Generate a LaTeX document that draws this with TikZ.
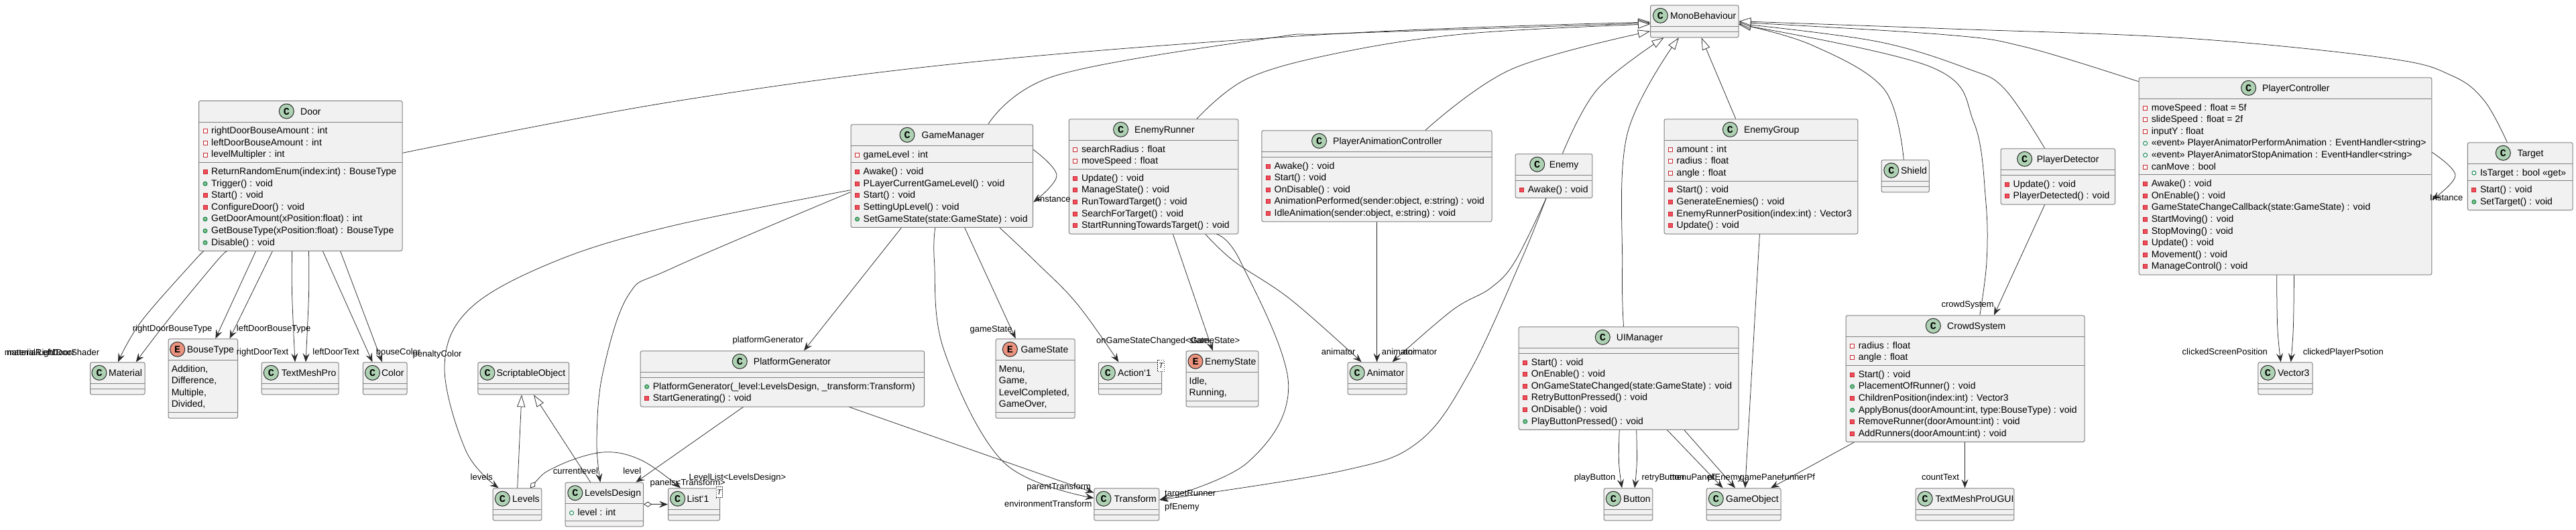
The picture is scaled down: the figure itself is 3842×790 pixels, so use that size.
\documentclass[tikz,border=0pt]{standalone}
\usepackage{fontspec}
\setmainfont{Liberation Sans}
\newfontfamily\spotfont{Liberation Mono}
\usetikzlibrary{arrows.meta}
\definecolor{boxfill}{HTML}{F1F1F1}
\definecolor{boxline}{HTML}{808080}
\definecolor{ink}{HTML}{2A2A2A}
\definecolor{spotc}{HTML}{ADD1B2}
\definecolor{spote}{HTML}{EB937F}
\definecolor{privline}{HTML}{C82930}
\definecolor{privfill}{HTML}{F24D5C}
\definecolor{publine}{HTML}{038048}
\definecolor{pubfill}{HTML}{84BE84}
\newcounter{autoid}
\tikzset{
  classbox/.style={draw=boxline,fill=boxfill,line width=1pt,rounded corners=2.5pt,inner sep=0pt,anchor=north west},
  sepline/.style={draw=boxline,line width=1pt},
  rowtxt/.style={anchor=base west,inner sep=0pt,text=black,font=\fontsize{14}{16}\selectfont},
  lbltxt/.style={anchor=base west,inner sep=0pt,text=black,font=\fontsize{13}{15}\selectfont},
  spotglyph/.style={inner sep=0pt,text=black,font=\fontsize{15}{15}\selectfont\spotfont\bfseries},
  spotdisc/.style={draw=ink,line width=1pt},
  assoc/.style={draw=ink,line width=.75pt,-{Stealth[length=13pt,width=10pt,inset=5pt]}},
  inherit/.style={draw=ink,line width=.75pt,-{Triangle[open,fill=white,length=18pt,width=12pt]}},
  aggreg/.style={draw=ink,line width=.75pt,{Diamond[open,fill=white,length=12pt,width=8pt]}-{Stealth[length=13pt,width=10pt,inset=5pt]}},
  privf/.style={draw=privline,fill=white,line width=.9pt},
  privm/.style={draw=privline,fill=privfill,line width=.9pt},
  pubf/.style={draw=publine,fill=white,line width=.9pt},
  pubm/.style={draw=publine,fill=pubfill,line width=.9pt},
  tmplbox/.style={draw=ink,fill=white,dashed,dash pattern=on 1.5pt off 1.5pt,line width=.8pt,inner sep=0pt,anchor=north west,text=black,font=\fontsize{11}{11}\selectfont\itshape},
  smoothline/.style={smooth,tension=.6}
}
% #1 spot letter, #2 id, #3 left, #4 top, #5 right, #6 rows in fields, #7 rows in methods, #8 spot x, #9 name x, then title via \umltitle
\newcommand\umlclass[9][C]{%
  \pgfmathsetmacro\rl{#3}%
  \pgfmathsetmacro\yA{#4+32}%
  \pgfmathsetmacro\yB{\yA+8+17.6*#6}%
  \pgfmathsetmacro\yC{\yB+8+17.6*#7}%
  \pgfmathsetmacro\boxw{#5-#3}%
  \pgfmathsetmacro\boxh{\yC-#4}%
  \node[classbox,minimum width=\boxw pt,minimum height=\boxh pt] (#2) at (#3,#4) {};
  \draw[sepline] (#3,\yA) -- (#5,\yA);
  \draw[sepline] (#3,\yB) -- (#5,\yB);
  \def\tempspot{#1}\def\tempC{C}%
  \ifx\tempspot\tempC\def\tempcol{spotc}\else\def\tempcol{spote}\fi
  \draw[spotdisc,fill=\tempcol] (#8,#4+16) circle[radius=11];
  \node[spotglyph] (#2-spot) at (#8,#4+16.3) {#1};
  \def\titlex{#9}\def\titley{#4}%
  \pgfmathsetmacro\cury{\yA+13.8}%
  \umltitle{#2}%
}
\newcommand\umltitle[2]{\node[rowtxt] (#1-name) at (\titlex,\titley+21) {#2};}
\newcommand\methods{\pgfmathsetmacro\cury{\yB+13.8}}
\newcommand\rowtext[2]{\stepcounter{autoid}\node[rowtxt] (r\arabic{autoid}) at (\rl+#1,\cury+3.9) {#2};\pgfmathsetmacro\cury{\cury+17.6}}
\newcommand\fpriv[1]{\draw[privf] (\rl+7,\cury-3) rectangle (\rl+13,\cury+3);\rowtext{19}{#1}}
\newcommand\mpriv[1]{\draw[privm] (\rl+7,\cury-3) rectangle (\rl+13,\cury+3);\rowtext{19}{#1}}
\newcommand\fpub[1]{\draw[pubf] (\rl+10,\cury) circle[radius=3];\rowtext{19}{#1}}
\newcommand\mpub[1]{\draw[pubm] (\rl+10,\cury) circle[radius=3];\rowtext{19}{#1}}
\newcommand\eitem[1]{\rowtext{5}{#1}}
\newcommand\lbl[3]{\stepcounter{autoid}\node[lbltxt] (l\arabic{autoid}) at (#1,#2+4) {#3};}
\begin{document}
\begin{tikzpicture}[x=1pt,y=-1pt]
\useasboundingbox (0,0) rectangle (3842,790);
\fill[white] (0,0) rectangle (3842,790);

\umlclass{door}{296}{150}{599.5}{3}{7}{427.3}{448}{Door}
\fpriv{rightDoorBouseAmount : int}\fpriv{leftDoorBouseAmount : int}\fpriv{levelMultipler : int}
\methods
\mpriv{ReturnRandomEnum(index:int) : BouseType}\mpub{Trigger() : void}\mpriv{Start() : void}\mpriv{ConfigureDoor() : void}\mpub{GetDoorAmount(xPosition:float) : int}\mpub{GetBouseType(xPosition:float) : BouseType}\mpub{Disable() : void}

\umlclass{material}{134}{540.3}{215.5}{0}{0}{148}{162}{Material}
\umlclass[E]{bousetype}{250.6}{505.3}{354}{4}{0}{264.7}{278.7}{BouseType}
\eitem{Addition,}\eitem{Difference,}\eitem{Multiple,}\eitem{Divided,}
\umlclass{textmeshpro}{389.7}{540.3}{504.5}{0}{0}{404.3}{419.6}{TextMeshPro}
\umlclass{color}{540.8}{540.3}{606.5}{0}{0}{555.5}{568.9}{Color}
\umlclass{scriptable}{712.4}{540.3}{848.2}{0}{0}{727}{740.4}{ScriptableObject}
\umlclass{levels}{734.7}{728.3}{807.4}{0}{0}{749.4}{764}{Levels}
\umlclass{levelsdesign}{842.5}{719.7}{959.2}{1}{0}{857.8}{871.8}{LevelsDesign}
\fpub{level : int}
\umlclass{listone}{996}{728.3}{1073}{0}{0}{1010.7}{1024.5}{List`1}
\node[tmplbox,minimum width=9pt,minimum height=16.6pt] (listT) at (1067.7,725.7) {T};
\umlclass{platform}{954.7}{523.3}{1378}{0}{2}{1103.3}{1123.7}{PlatformGenerator}
\methods
\mpub{PlatformGenerator(\_level:LevelsDesign, \_transform:Transform)}\mpriv{StartGenerating() : void}

\umlclass{gamemanager}{1268.5}{185.3}{1540.2}{1}{5}{1353}{1374.4}{GameManager}
\fpriv{gameLevel : int}
\methods
\mpriv{Awake() : void}\mpriv{PLayerCurrentGameLevel() : void}\mpriv{Start() : void}\mpriv{SettingUpLevel() : void}\mpub{SetGameState(state:GameState) : void}

\umlclass{enemyrunner}{1593.8}{177.3}{1846.3}{2}{5}{1671.6}{1692}{EnemyRunner}
\fpriv{searchRadius : float}\fpriv{moveSpeed : float}
\methods
\mpriv{Update() : void}\mpriv{ManageState() : void}\mpriv{RunTowardTarget() : void}\mpriv{SearchForTarget() : void}\mpriv{StartRunningTowardsTarget() : void}

\umlclass{pac}{1881.4}{194.3}{2224.5}{0}{5}{1967.5}{1988}{PlayerAnimationController}
\methods
\mpriv{Awake() : void}\mpriv{Start() : void}\mpriv{OnDisable() : void}\mpriv{AnimationPerformed(sender:object, e:string) : void}\mpriv{IdleAnimation(sender:object, e:string) : void}

\umlclass[E]{gamestate}{1484.7}{505.3}{1602.7}{4}{0}{1506.4}{1522.3}{GameState}
\eitem{Menu,}\eitem{Game,}\eitem{LevelCompleted,}\eitem{GameOver,}
\umlclass{actionone}{1637.8}{540.3}{1732}{0}{0}{1652.4}{1667}{Action`1}
\node[tmplbox,minimum width=9.6pt,minimum height=17pt] (actionT) at (1726.4,537) {T};
\umlclass[E]{enemystate}{1768.5}{523.3}{1876.3}{2}{0}{1783}{1797}{EnemyState}
\eitem{Idle,}\eitem{Running,}
\umlclass{transform}{1631.4}{728.3}{1728.3}{0}{0}{1646}{1661.4}{Transform}
\umlclass{animator}{2009.6}{540.3}{2097.6}{0}{0}{2024.2}{2038.3}{Animator}

\umlclass{mono}{2461}{7.3}{2592.5}{0}{0}{2476.4}{2491}{MonoBehaviour}
\umlclass{enemy}{2259.6}{229.3}{2374.4}{0}{1}{2292.7}{2310.6}{Enemy}
\methods
\mpriv{Awake() : void}
\umlclass{enemygroup}{2481.5}{177.3}{2770.4}{3}{4}{2580.4}{2600.8}{EnemyGroup}
\fpriv{amount : int}\fpriv{radius : float}\fpriv{angle : float}
\methods
\mpriv{Start() : void}\mpriv{GenerateEnemies() : void}\mpriv{EnemyRunnerPosition(index:int) : Vector3}\mpriv{Update() : void}
\umlclass{shield}{2805.5}{238.3}{2876.9}{0}{0}{2820.8}{2834.8}{Shield}
\umlclass{uimanager}{2264.7}{487.3}{2592.5}{0}{6}{2390.3}{2410.7}{UIManager}
\methods
\mpriv{Start() : void}\mpriv{OnEnable() : void}\mpriv{OnGameStateChanged(state:GameState) : void}\mpriv{RetryButtonPressed() : void}\mpriv{OnDisable() : void}\mpub{PlayButtonPressed() : void}
\umlclass{button}{2391.6}{728.3}{2464.3}{0}{0}{2406.3}{2421}{Button}
\umlclass{gameobject}{2544.6}{728.3}{2655.6}{0}{0}{2559.3}{2574}{GameObject}
\umlclass{crowd}{2752.6}{470.3}{3108.5}{2}{6}{2883.3}{2904}{CrowdSystem}
\fpriv{radius : float}\fpriv{angle : float}
\methods
\mpriv{Start() : void}\mpub{PlacementOfRunner() : void}\mpriv{ChildrenPosition(index:int) : Vector3}\mpub{ApplyBonus(doorAmount:int, type:BouseType) : void}\mpriv{RemoveRunner(doorAmount:int) : void}\mpriv{AddRunners(doorAmount:int) : void}
\umlclass{tmpugui}{2856.5}{728.3}{3003.3}{0}{0}{2871.2}{2886.5}{TextMeshProUGUI}
\umlclass{detector}{2983.5}{221.3}{3154.1}{0}{2}{3019.6}{3037.6}{PlayerDetector}
\methods
\mpriv{Update() : void}\mpriv{PlayerDetected() : void}
\umlclass{player}{3189.6}{115.3}{3626.3}{6}{8}{3353.6}{3374}{PlayerController}
\fpriv{moveSpeed : float = 5f}\fpriv{slideSpeed : float = 2f}\fpriv{inputY : float}\fpub{«event» PlayerAnimatorPerformAnimation : EventHandler<string>}\fpub{«event» PlayerAnimatorStopAnimation : EventHandler<string>}\fpriv{canMove : bool}
\methods
\mpriv{Awake() : void}\mpriv{OnEnable() : void}\mpriv{GameStateChangeCallback(state:GameState) : void}\mpriv{StartMoving() : void}\mpriv{StopMoving() : void}\mpriv{Update() : void}\mpriv{Movement() : void}\mpriv{ManageControl() : void}
\umlclass{vectorthree}{3367.4}{540.3}{3448.5}{0}{0}{3382.4}{3396.8}{Vector3}
\umlclass{target}{3679.8}{212.3}{3836.6}{1}{2}{3733.3}{3754.3}{Target}
\fpub{IsTarget : bool «get»}
\methods
\mpriv{Start() : void}\mpub{SetTarget() : void}

% inheritance
\draw[inherit] plot[smoothline] coordinates {([yshift=-78.3]door.north east) (1000,152.3) (1446,93) (2000,50) ([yshift=-25.7]mono.north west)};
\draw[inherit] plot[smoothline] coordinates {([xshift=205.4]gamemanager.north west) (1574,113) (1893,57) (2000,50) ([yshift=-27.2]mono.north west)};
\draw[inherit] plot[smoothline] coordinates {([xshift=191.2]enemyrunner.north west) (1861,117) (2000,78.3) (2191,50) ([yshift=-28.7]mono.north west)};
\draw[inherit] plot[smoothline] coordinates {([xshift=244.6]pac.north west) (2255,103) ([yshift=-39.4]mono.north west)};
\draw[inherit] plot[smoothline] coordinates {([xshift=70.8]enemy.north west) (2382.6,133) ([xshift=20.5]mono.south west)};
\draw[inherit] plot[smoothline] coordinates {([xshift=156.8]uimanager.north west) (2419.6,400) (2427,200) ([xshift=42.8]mono.south west)};
\draw[inherit] ([xshift=107.2]enemygroup.north west) -- ([xshift=76.6]mono.south west);
\draw[inherit] plot[smoothline] coordinates {([xshift=33.8]shield.north west) (2810,133) (2701.5,67) ([yshift=-28.7]mono.north east)};
\draw[inherit] plot[smoothline] coordinates {([xshift=200.2]crowd.north west) (2963,390) (2961.7,300) (2944,183) (2880,100) ([yshift=-29.2]mono.north east)};
\draw[inherit] plot[smoothline] coordinates {([xshift=66.1]detector.north west) (2990,133) (2936,103) (2800,62) ([yshift=-28]mono.north east)};
\draw[inherit] plot[smoothline] coordinates {([yshift=-6.4]player.north west) (3020,70) (2900,51.7) ([yshift=-26]mono.north east)};
\draw[inherit] plot[smoothline] coordinates {([xshift=59.5]target.north west) (3705,150) (3657,113) (3561,87) (3260,57) (2900,42.7) ([yshift=-24.4]mono.north east)};
\draw[inherit] ([xshift=37]levels.north west) -- ([xshift=65.6]scriptable.south west);
\draw[inherit] ([xshift=38.2]levelsdesign.north west) -- ([xshift=83.6]scriptable.south west);

% Door associations
\draw[assoc] plot[smoothline] coordinates {([xshift=8.2]door.south west) (289,390) (210.5,480) ([xshift=42]material.north west)};
\draw[assoc] plot[smoothline] coordinates {([xshift=42.6]door.south west) (323,390) (248.7,480) ([xshift=68.8]material.north west)};
\draw[assoc] ([xshift=85.4]door.south west) -- ([xshift=70.8]bousetype.north west);
\draw[assoc] ([xshift=110.3]door.south west) -- ([xshift=91.9]bousetype.north west);
\draw[assoc] plot[smoothline] coordinates {([xshift=139.6]door.south west) (435.6,440) ([xshift=50.3]textmeshpro.north west)};
\draw[assoc] plot[smoothline] coordinates {([xshift=164.5]door.south west) (460.5,440) ([xshift=66.3]textmeshpro.north west)};
\draw[assoc] ([xshift=185.5]door.south west) -- ([xshift=14.7]color.north west);
\draw[assoc] ([xshift=211.7]door.south west) -- ([xshift=29.2]color.north west);

% GameManager
\draw[assoc] plot[smoothline] coordinates {([yshift=-98.4]gamemanager.north west) (1000,337.7) (828,390) (701.5,460) (663,546.7) (695,673) ([xshift=8.9]levels.north west)};
\draw[assoc] plot[smoothline] coordinates {([yshift=-101.4]gamemanager.north west) (1003,400) (937.5,440) (899,556.7) (890,656.7) ([xshift=52.9]levelsdesign.north west)};
\draw[assoc] plot[smoothline] coordinates {([yshift=-38]gamemanager.north east) (1576,262) ([yshift=-116.4]gamemanager.north east)};
\draw[assoc] ([xshift=75.9]gamemanager.south west) -- ([xshift=244.3]platform.north west);
\draw[assoc] plot[smoothline] coordinates {([xshift=126.3]gamemanager.south west) (1393.5,390) (1408,523) (1497,690) ([yshift=-15]transform.north west)};
\draw[assoc] ([xshift=170.3]gamemanager.south west) -- ([xshift=30]gamestate.north west);
\draw[assoc] plot[smoothline] coordinates {([xshift=222.5]gamemanager.south west) (1544,390) (1606,453) ([xshift=30.6]actionone.north west)};

% EnemyRunner
\draw[assoc] ([xshift=155.6]enemyrunner.south west) -- ([xshift=40.2]enemystate.north west);
\draw[assoc] plot[smoothline] coordinates {([xshift=220.6]enemyrunner.south west) (1850,390) (1921.6,573) (1861,690) ([yshift=-17.7]transform.north east)};
\draw[assoc] plot[smoothline] coordinates {([xshift=204]enemyrunner.south west) (1840.6,390) (1925,447) ([xshift=21]animator.north west)};

% Animator, Enemy
\draw[assoc] ([xshift=172.2]pac.south west) -- ([xshift=44]animator.north west);
\draw[assoc] plot[smoothline] coordinates {([xshift=46.4]enemy.south west) (2259.6,390) (2223,430) (2166,463) ([xshift=66.9]animator.north west)};
\draw[assoc] plot[smoothline] coordinates {([xshift=46.4]enemy.south west) (2268,390) (2191,556.7) (2115,660) (2000,703) ([yshift=-17.7]transform.north east)};

% UIManager etc.
\draw[assoc] plot[smoothline] coordinates {([xshift=150.5]uimanager.south west) (2414.5,690) ([xshift=27.4]button.north west)};
\draw[assoc] plot[smoothline] coordinates {([xshift=176]uimanager.south west) (2441.3,690) ([xshift=46.4]button.north west)};
\draw[assoc] ([xshift=221.9]uimanager.south west) -- ([xshift=24.9]gameobject.north west);
\draw[assoc] ([xshift=247.3]uimanager.south west) -- ([xshift=43.4]gameobject.north west);
\draw[assoc] ([xshift=142.9]enemygroup.south west) -- ([xshift=58.1]gameobject.north west);
\draw[assoc] ([xshift=12.7]crowd.south west) -- ([xshift=96.4]gameobject.north west);
\draw[assoc] ([xshift=177.9]crowd.south west) -- ([xshift=74]tmpugui.north west);
\draw[assoc] ([xshift=66.1]detector.south west) -- ([xshift=221.4]crowd.north west);
\draw[assoc] plot[smoothline] coordinates {([xshift=206]player.south west) (3396.8,490) ([xshift=34.3]vectorthree.north west)};
\draw[assoc] plot[smoothline] coordinates {([xshift=231.9]player.south west) (3420.3,490) ([xshift=49.3]vectorthree.north west)};
\draw[assoc] plot[smoothline] coordinates {([yshift=-112]player.north east) (3662,261.7) ([yshift=-182.7]player.north east)};

% Platform, levels
\draw[assoc] ([xshift=153.7]platform.south west) -- ([xshift=105.9]levelsdesign.north west);
\draw[assoc] ([xshift=311.9]platform.south west) -- ([yshift=-7]transform.north west);
\draw[aggreg] plot[smoothline] coordinates {([xshift=56]levels.north west) (829,696.7) (899,675) (957,687) ([xshift=19]listone.north west)};
\draw[aggreg] ([yshift=-33]levelsdesign.north east) -- ([yshift=-24.4]listone.north west);

% labels
\lbl{6.7}{526}{materialRightDoor}
\lbl{10}{526}{materialLeftDoorShader}
\lbl{197.7}{490.7}{rightDoorBouseType}
\lbl{352.7}{490.7}{leftDoorBouseType}
\lbl{352.7}{525.7}{rightDoorText}
\lbl{466.2}{525.7}{leftDoorText}
\lbl{560.6}{525.7}{bouseColor}
\lbl{615.4}{528.7}{penaltyColor}
\lbl{701.5}{712.3}{levels}
\lbl{824.6}{703.7}{currentlevel}
\lbl{929.2}{703.7}{level}
\lbl{969.4}{720}{panels<Transform>}
\lbl{1027.4}{712.3}{LevelList<LevelsDesign>}
\lbl{1092.5}{507.7}{platformGenerator}
\lbl{1446.4}{491}{gameState}
\lbl{1635}{508.7}{onGameStateChanged<GameState>}
\lbl{1774}{508.7}{state}
\lbl{1548}{297.7}{instance}
\lbl{1531.2}{726.7}{parentTransform}
\lbl{1498}{752.7}{environmentTransform}
\lbl{1737}{736.7}{targetRunner}
\lbl{1737}{756}{pfEnemy}
\lbl{1970.7}{525.7}{animator}
\lbl{2060.6}{525.7}{animator}
\lbl{2092.5}{525.7}{animator}
\lbl{2347.6}{712.7}{playButton}
\lbl{2448.3}{712.7}{retryButton}
\lbl{2489.8}{712.7}{menuPanel}
\lbl{2546.6}{712.7}{pfEnemy}
\lbl{2594.4}{712.7}{gamePanel}
\lbl{2657}{712.7}{runnerPf}
\lbl{2866}{712.7}{countText}
\lbl{2895.4}{454.3}{crowdSystem}
\lbl{3254.5}{525.7}{clickedScreenPosition}
\lbl{3434.7}{525.7}{clickedPlayerPsotion}
\lbl{3624}{295}{Instance}
\end{tikzpicture}
\end{document}
